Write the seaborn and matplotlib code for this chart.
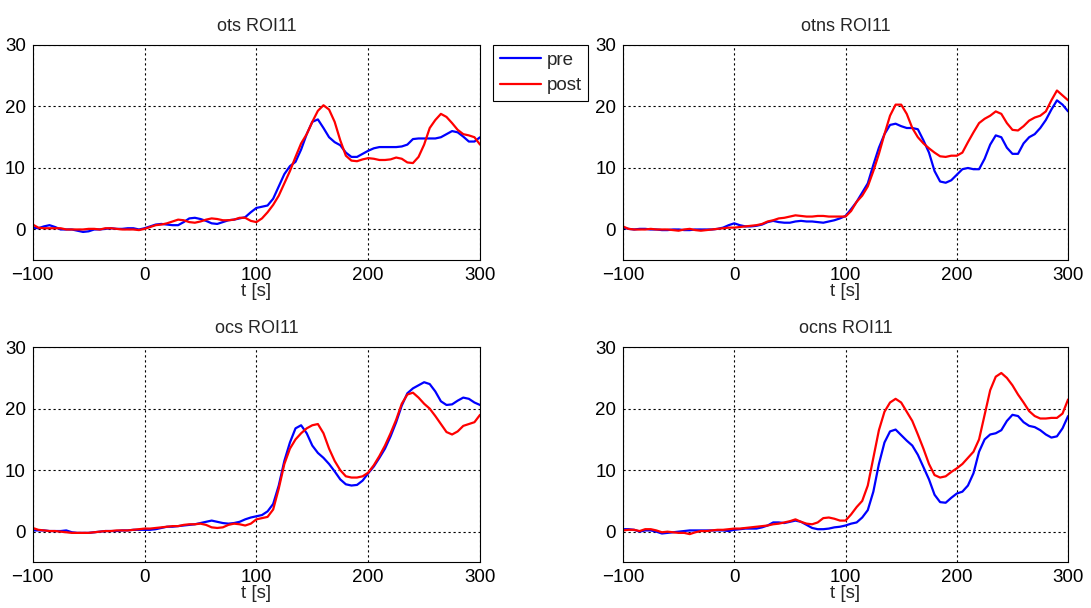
import numpy as np
import pandas as pd
import matplotlib
matplotlib.use("Agg")
import matplotlib.pyplot as plt
import seaborn as sns

# time axis, 5 s steps from -100 to 300
t = np.arange(-100, 305, 5)

ots_pre = [0.3, 0.2, 0.5, 0.7, 0.4, 0.0, 0.0, 0.0, -0.2, -0.4, -0.3, 0.0, 0.0, 0.1, 0.2, 0.1, 0.1, 0.2, 0.2, 0.0,
           0.2, 0.5, 0.8, 0.9, 0.8, 0.7, 0.7, 1.2, 1.8, 1.9, 1.7, 1.4, 1.0, 0.9, 1.2, 1.5, 1.6, 1.8, 2.0, 2.8,
           3.5, 3.7, 3.9, 5.0, 7.0, 9.0, 10.3, 11.0, 13.0, 15.5, 17.5, 17.9, 16.5, 15.0, 14.2, 13.7, 12.5, 11.8, 11.8, 12.3,
           12.8, 13.2, 13.4, 13.4, 13.4, 13.4, 13.5, 13.8, 14.7, 14.8, 14.8, 14.8, 14.8, 15.0, 15.5, 16.0, 15.8, 15.1, 14.3, 14.3, 15.0]
ots_post = [0.8, 0.3, 0.2, 0.2, 0.2, 0.2, 0.0, 0.0, 0.0, 0.0, 0.1, 0.1, 0.0, 0.2, 0.2, 0.1, 0.0, 0.0, 0.0, -0.1,
            0.1, 0.4, 0.7, 0.8, 1.0, 1.3, 1.6, 1.5, 1.2, 1.1, 1.3, 1.6, 1.8, 1.7, 1.5, 1.5, 1.6, 1.9, 1.9, 1.4,
            1.2, 1.8, 2.8, 4.0, 5.5, 7.5, 9.5, 11.8, 14.0, 15.5, 17.5, 19.3, 20.2, 19.5, 17.5, 14.5, 12.0, 11.2, 11.1, 11.4,
            11.6, 11.5, 11.3, 11.3, 11.4, 11.7, 11.5, 10.9, 10.8, 11.8, 13.8, 16.5, 17.8, 18.8, 18.3, 17.3, 16.2, 15.5, 15.3, 15.0, 13.8]

otns_pre = [0.3, 0.1, 0.0, 0.1, 0.1, 0.0, 0.0, -0.1, -0.1, 0.0, 0.0, -0.1, -0.1, 0.0, 0.0, 0.0, 0.0, 0.1, 0.3, 0.7,
            1.0, 0.7, 0.5, 0.5, 0.6, 0.8, 1.2, 1.4, 1.2, 1.1, 1.1, 1.3, 1.4, 1.3, 1.3, 1.2, 1.1, 1.3, 1.5, 1.8,
            2.2, 3.3, 4.5, 6.0, 7.5, 10.5, 13.3, 15.5, 17.0, 17.2, 16.8, 16.5, 16.5, 16.3, 14.5, 12.5, 9.5, 7.8, 7.6, 8.0,
            8.9, 9.8, 10.0, 9.8, 9.8, 11.5, 13.8, 15.3, 15.0, 13.3, 12.3, 12.3, 14.0, 15.0, 15.5, 16.5, 17.8, 19.5, 21.0, 20.3, 19.2]
otns_post = [0.5, 0.1, 0.0, 0.0, 0.0, 0.1, 0.0, 0.0, 0.0, -0.1, -0.2, 0.0, 0.1, -0.1, -0.2, -0.1, 0.0, 0.1, 0.2, 0.3,
             0.3, 0.4, 0.5, 0.6, 0.7, 0.9, 1.3, 1.5, 1.8, 1.9, 2.1, 2.3, 2.2, 2.1, 2.1, 2.2, 2.2, 2.1, 2.1, 2.1,
             2.1, 3.0, 4.5, 5.5, 7.0, 9.5, 12.3, 15.5, 18.5, 20.3, 20.3, 18.8, 16.5, 15.0, 14.0, 13.2, 12.5, 11.9, 11.8, 12.0,
             12.0, 12.5, 14.2, 15.8, 17.3, 18.0, 18.5, 19.2, 18.8, 17.3, 16.2, 16.1, 16.8, 17.7, 18.2, 18.5, 19.2, 21.0, 22.6, 21.8, 21.0]

ocs_pre = [0.2, 0.2, 0.2, 0.1, 0.1, 0.1, 0.2, -0.1, -0.2, -0.2, -0.2, -0.1, 0.0, 0.1, 0.1, 0.1, 0.2, 0.2, 0.3, 0.3,
           0.3, 0.3, 0.4, 0.6, 0.8, 0.8, 0.9, 1.0, 1.1, 1.2, 1.4, 1.6, 1.8, 1.6, 1.4, 1.3, 1.4, 1.6, 2.0, 2.3,
           2.5, 2.7, 3.3, 4.5, 7.5, 11.5, 14.5, 16.8, 17.3, 16.0, 14.0, 12.8, 12.0, 11.0, 9.8, 8.5, 7.7, 7.5, 7.6, 8.3,
           9.5, 10.6, 12.0, 13.5, 15.5, 17.8, 20.5, 22.5, 23.3, 23.8, 24.3, 24.0, 22.8, 21.2, 20.6, 20.7, 21.3, 21.8, 21.6, 21.0, 20.6]
ocs_post = [0.6, 0.3, 0.2, 0.1, 0.1, 0.0, -0.1, -0.2, -0.2, -0.2, -0.2, -0.1, 0.0, 0.1, 0.1, 0.2, 0.2, 0.2, 0.3, 0.4,
            0.5, 0.5, 0.6, 0.7, 0.8, 0.9, 0.9, 1.1, 1.2, 1.2, 1.3, 1.1, 0.7, 0.6, 0.7, 1.1, 1.3, 1.2, 1.0, 1.3,
            2.0, 2.2, 2.4, 3.6, 7.0, 11.0, 13.5, 15.0, 16.0, 16.8, 17.3, 17.5, 16.0, 13.5, 11.5, 10.0, 9.0, 8.8, 8.8, 9.0,
            9.6, 10.8, 12.3, 14.0, 16.0, 18.2, 20.8, 22.3, 22.6, 21.8, 20.8, 20.0, 18.8, 17.5, 16.2, 15.8, 16.3, 17.2, 17.5, 17.8, 19.0]

ocns_pre = [0.4, 0.4, 0.3, 0.0, 0.2, 0.2, 0.0, -0.3, -0.2, -0.1, 0.0, 0.1, 0.2, 0.2, 0.2, 0.2, 0.2, 0.2, 0.2, 0.1,
            0.3, 0.4, 0.5, 0.5, 0.5, 0.7, 1.0, 1.5, 1.5, 1.4, 1.6, 1.8, 1.6, 1.1, 0.6, 0.4, 0.4, 0.5, 0.7, 0.8,
            1.0, 1.3, 1.5, 2.3, 3.5, 6.5, 11.0, 14.5, 16.3, 16.6, 15.7, 14.8, 14.0, 12.5, 10.5, 8.5, 6.0, 4.8, 4.7, 5.5,
            6.2, 6.5, 7.5, 9.5, 13.0, 15.0, 15.8, 16.0, 16.5, 18.0, 19.0, 18.8, 17.8, 17.2, 17.0, 16.5, 15.8, 15.3, 15.5, 16.8, 18.8]
ocns_post = [0.2, 0.3, 0.3, 0.1, 0.4, 0.4, 0.2, -0.1, 0.0, -0.1, -0.2, -0.2, -0.4, -0.1, 0.1, 0.1, 0.2, 0.3, 0.3, 0.4,
             0.5, 0.5, 0.6, 0.7, 0.8, 0.9, 1.0, 1.2, 1.3, 1.5, 1.7, 2.0, 1.6, 1.3, 1.2, 1.5, 2.2, 2.3, 2.1, 1.8,
             1.8, 2.8, 4.0, 5.0, 7.5, 12.0, 16.5, 19.5, 21.0, 21.6, 21.0, 19.5, 18.0, 15.8, 13.5, 11.0, 9.2, 8.8, 9.0, 9.7,
             10.3, 11.0, 12.0, 13.0, 15.0, 19.0, 23.0, 25.2, 25.8, 25.0, 23.8, 22.3, 21.0, 19.6, 18.8, 18.4, 18.4, 18.5, 18.5, 19.2, 21.5]

panels = ["ots", "otns", "ocs", "ocns"]
series = {
    "ots": (ots_pre, ots_post),
    "otns": (otns_pre, otns_post),
    "ocs": (ocs_pre, ocs_post),
    "ocns": (ocns_pre, ocns_post),
}

sns.set_style("white")
plt.rcParams['font.family'] = ['Liberation Sans', 'DejaVu Sans']

fig = plt.figure(figsize=(10.91, 6.08), dpi=100)
# axes boxes in figure fractions [left, bottom, width, height]
boxes = [
    [0.030, 0.572, 0.410, 0.354],
    [0.571, 0.572, 0.408, 0.354],
    [0.030, 0.075, 0.410, 0.354],
    [0.571, 0.075, 0.408, 0.354],
]

palette = {"pre": "#0000ff", "post": "#ff0000"}

for name, box in zip(panels, boxes):
    ax = fig.add_axes(box)
    pre, post = series[name]
    df = pd.DataFrame({
        "t": np.concatenate([t, t]),
        "value": pre + post,
        "cond": ["pre"] * len(t) + ["post"] * len(t),
    })
    sns.lineplot(data=df, x="t", y="value", hue="cond", palette=palette,
                 linewidth=1.6, ax=ax, legend=False)
    ax.set_xlim(-100, 300)
    ax.set_ylim(-5, 30)
    ax.set_xticks([-100, 0, 100, 200, 300])
    ax.set_yticks([0, 10, 20, 30])
    ax.grid(True, color="black", linestyle=(0, (2, 2.5)), linewidth=0.8)
    ax.tick_params(direction="in", length=3, labelsize=13.5, pad=5, colors="black")
    for s in ax.spines.values():
        s.set_color("black")
        s.set_linewidth(0.8)
    ax.set_title(f"{name} ROI11", fontsize=13, pad=10)
    ax.set_xlabel("t [s]", fontsize=13.5, labelpad=-1)
    ax.set_ylabel("")

handles = [plt.Line2D([], [], color="#0000ff", lw=1.6),
           plt.Line2D([], [], color="#ff0000", lw=1.6)]
leg = fig.legend(handles, ["pre", "post"], loc="upper left",
                 bbox_to_anchor=(0.452, 0.926), fontsize=13.5, fancybox=False,
                 edgecolor="black", framealpha=1, handlelength=2.2,
                 handletextpad=0.3, borderpad=0.35, labelspacing=0.45,
                 borderaxespad=0)
leg.get_frame().set_linewidth(0.8)

fig.savefig("out.png", dpi=100)
